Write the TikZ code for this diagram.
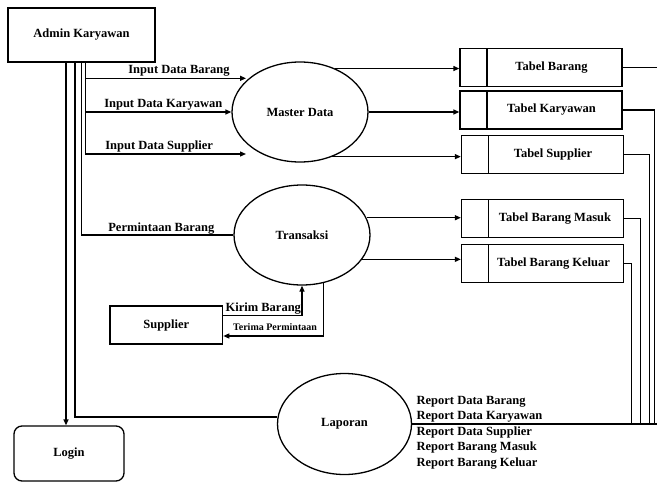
\documentclass[tikz,border=0pt]{standalone}
\usepackage{fontspec}
\setmainfont{Liberation Serif}
\usetikzlibrary{shapes.geometric,arrows.meta}
\begin{document}
\begin{tikzpicture}[x=1pt,y=-1pt,
  line width=1.3pt,
  every node/.style={font=\fontsize{12.5}{15}\selectfont\bfseries},
  box/.style={draw, rectangle, inner sep=0pt},
  proc/.style={draw, ellipse, minimum width=136pt, minimum height=100pt, inner sep=0pt},
  tbl/.style={draw, rectangle, inner sep=0pt, minimum width=162pt, minimum height=38pt,
    path picture={\draw[line width=1.3pt] ([xshift=27pt]path picture bounding box.north west) -- ([xshift=27pt]path picture bounding box.south west);}},
  arr/.style={-{Triangle[length=6pt,width=5pt]}},
  lbl/.style={inner sep=0pt, anchor=base},
  small/.style={inner sep=0pt, anchor=base, font=\fontsize{10}{12}\selectfont\bfseries}]
\useasboundingbox (0,0) rectangle (657,482);
\clip (0,0) rectangle (657,482);
% nodes
\node[box, minimum width=147pt, minimum height=54pt] (adm) at (81.5,35) {Admin Karyawan};
\node[box, rounded corners=8pt, minimum width=110pt, minimum height=55pt] (login) at (69,453.5) {Login};
\node[proc] (md) at (300,112) {Master Data};
\node[proc] (tr) at (302,235) {Transaksi};
\node[proc, minimum width=134pt, minimum height=101pt] (lap) at (344.5,424) {Laporan};
\node[box, minimum width=112.7pt, minimum height=38pt] (sup) at (166.3,325) {Supplier};
\node[tbl] (tb) at (541,67.2) {\hspace*{27pt}\makebox[129pt]{Tabel Barang}\hspace*{6pt}};
\node[tbl] (tk) at (541,110) {\hspace*{27pt}\makebox[129pt]{Tabel Karyawan}\hspace*{6pt}};
\node[tbl] (ts) at (542.5,154.7) {\hspace*{27pt}\makebox[129pt]{Tabel Supplier}\hspace*{6pt}};
\node[tbl] (tm) at (542.5,218.2) {\hspace*{27pt}\makebox[133pt]{Tabel Barang Masuk}\hspace*{2pt}};
\node[tbl] (tkl) at (542.5,263.7) {\hspace*{27pt}\makebox[130pt]{Tabel Barang Keluar}\hspace*{5pt}};
% admin flows
\coordinate (ibar) at (246,78.3);
\coordinate (isup) at (246,154);
\draw[arr] ([xshift=-15.5pt]adm.south) -- ([xshift=-15.5pt]adm.south |- login.north);
\draw ([xshift=-6.5pt]adm.south) |- (lap.174);
\draw (adm.south) |- (tr.west);
\draw[arr] ([xshift=4pt]adm.south) |- (isup);
\draw[arr] ([xshift=4pt]adm.south |- ibar) -- (ibar);
\draw[arr] ([xshift=4pt]adm.south |- md.west) -- (md.west);
\node[lbl] at (179,73.5) {Input Data Barang};
\node[lbl] at (163.3,107.5) {Input Data Karyawan};
\node[lbl] at (159.2,149) {Input Data Supplier};
\node[lbl] at (161.3,231) {Permintaan Barang};
% to tables
\draw[arr] (md.51) -- (md.51 -| tb.west);
\draw[arr] (md.east) -- (md.east -| tk.west);
\draw[arr] (md.-54) -- (md.-54 -| ts.west);
\draw[arr] (tr.15) -- (tr.15 -| tm.west);
\draw[arr] (tr.-22) -- (tr.-22 -| tkl.west);
% tables to laporan
\draw (tb.east) -- ++(40,0) |- (lap.east);
\draw (tk.east) -- ++(32,0) |- (lap.east);
\draw (ts.east) -- ++(25,0) |- (lap.east);
\draw (tm.east) -- ++(16,0) |- (lap.east);
\draw (tkl.east) -- ++(7.5,0) |- (lap.east);
% supplier
\draw[arr] ([yshift=9.3pt]sup.east) -| (tr.south);
\draw[arr] (tr.-66.5) |- ([yshift=-11pt]sup.east);
\node[lbl] at (263.3,311) {Kirim Barang};
\node[small] at (275,330) {Terima Permintaan};
% reports
\node[lbl, anchor=base west] at (416,404) {Report Data Barang};
\node[lbl, anchor=base west] at (416,419.5) {Report Data Karyawan};
\node[lbl, anchor=base west] at (416,435) {Report Data Supplier};
\node[lbl, anchor=base west] at (416,450.5) {Report Barang Masuk};
\node[lbl, anchor=base west] at (416,466) {Report Barang Keluar};
\end{tikzpicture}
\end{document}
